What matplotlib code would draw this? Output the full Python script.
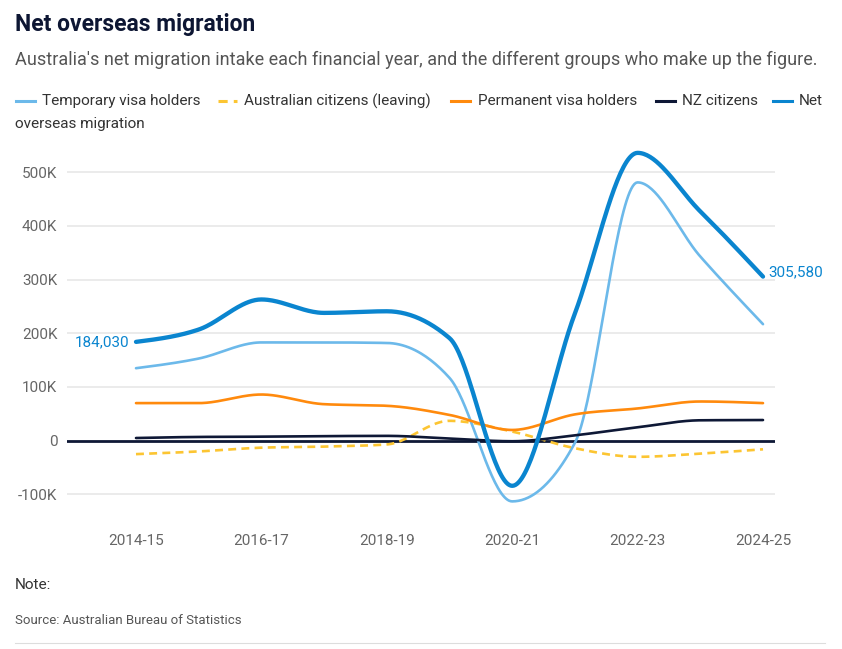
import numpy as np
import matplotlib
matplotlib.use("Agg")
import matplotlib.pyplot as plt
from matplotlib.lines import Line2D
from matplotlib.ticker import FuncFormatter

plt.rcParams['font.family'] = ['Roboto', 'DejaVu Sans']

# financial years
years = ["2014-15", "2015-16", "2016-17", "2017-18", "2018-19", "2019-20",
         "2020-21", "2021-22", "2022-23", "2023-24", "2024-25"]

# values (persons)
temporary = [135000, 153000, 183000, 183000, 182000, 117000,
             -113000, -4000, 481000, 343000, 217000]
citizens = [-25000, -20000, -13000, -11000, -7000, 37000,
            17000, -14000, -30000, -24000, -16000]
permanent = [70000, 70000, 86000, 68000, 65000, 48000,
             20000, 49000, 60000, 73000, 70000]
nz = [5000, 7000, 7500, 8500, 9000, 4000,
      -1000, 10000, 25000, 38000, 38500]
nom = [184030, 207000, 263000, 238000, 241000, 191000,
       -84000, 237000, 536000, 427000, 305580]

C_TEMP = "#6cb9ea"
C_CIT = "#fcc532"
C_PERM = "#ff8a0d"
C_NZ = "#0e1836"
C_NOM = "#0a85cf"


def monotone(y, n=40):
    # monotone cubic curve through the points (like d3 curveMonotoneX)
    y = np.asarray(y, float)
    x = np.arange(len(y), dtype=float)
    s = np.diff(y)
    t = np.zeros(len(y))
    for i in range(1, len(y) - 1):
        s0, s1 = s[i - 1], s[i]
        p = (s0 + s1) / 2
        t[i] = (np.sign(s0) + np.sign(s1)) * min(abs(s0), abs(s1), 0.5 * abs(p))
    t[0] = (3 * s[0] - t[1]) / 2
    t[-1] = (3 * s[-1] - t[-2]) / 2
    xs, ys = [], []
    for i in range(len(y) - 1):
        u = np.linspace(0, 1, n, endpoint=False)
        h00 = 2 * u**3 - 3 * u**2 + 1
        h10 = u**3 - 2 * u**2 + u
        h01 = -2 * u**3 + 3 * u**2
        h11 = u**3 - u**2
        xs.append(x[i] + u)
        ys.append(h00 * y[i] + h10 * t[i] + h01 * y[i + 1] + h11 * t[i + 1])
    xs.append([x[-1]])
    ys.append([y[-1]])
    return np.concatenate(xs), np.concatenate(ys)


fig = plt.figure(figsize=(8.42, 6.49), dpi=100)
W, H = 842, 649

x0, x1 = 136, 763
px = (x1 - x0) / 10
left, right = 67, 775
ylo, yhi = -120000, 560000
zero_px, k100 = 440.7, 53.7
top_px = zero_px - yhi / 100000 * k100
bot_px = zero_px - ylo / 100000 * k100

ax = fig.add_axes([left / W, 1 - bot_px / H, (right - left) / W, (bot_px - top_px) / H])
ax.set_xlim(-(x0 - left) / px, 10 + (right - x1) / px)
ax.set_ylim(ylo, yhi)

for v in [-100000, 100000, 200000, 300000, 400000, 500000]:
    ax.axhline(v, color="#e6e6e6", lw=1.1, zorder=0)

xi = np.arange(len(years))
xs, ys = monotone(temporary)
ax.plot(xs, ys, color=C_TEMP, lw=1.9, solid_capstyle="round", zorder=3)
xs, ys = monotone(citizens)
ax.plot(xs, ys, color=C_CIT, lw=1.9, dashes=(3, 2), zorder=3)
xs, ys = monotone(permanent)
ax.plot(xs, ys, color=C_PERM, lw=1.9, solid_capstyle="round", zorder=3)
ax.axhline(0, color=C_NZ, lw=2.0, zorder=2)
xs, ys = monotone(nz)
ax.plot(xs, ys, color=C_NZ, lw=1.9, solid_capstyle="round", zorder=3)
xs, ys = monotone(nom)
ax.plot(xs, ys, color=C_NOM, lw=3.1, solid_capstyle="round", zorder=4)

ax.annotate(f"{nom[0]:,}", (0, nom[0]), xytext=(-5, 0), textcoords="offset points",
            ha="right", va="center", color=C_NOM, fontsize=11)
ax.annotate(f"{nom[-1]:,}", (10, nom[-1]), xytext=(4, 3), textcoords="offset points",
            ha="left", va="center", color=C_NOM, fontsize=11)

ax.set_xticks(xi[::2])
ax.set_xticklabels(years[::2])
ax.set_yticks([-100000, 0, 100000, 200000, 300000, 400000, 500000])
ax.yaxis.set_major_formatter(FuncFormatter(lambda v, p: "0" if v == 0 else f"{int(v / 1000)}K"))
ax.tick_params(length=0, labelsize=11, colors="#666666")
ax.tick_params(axis="x", pad=21)
ax.tick_params(axis="y", pad=7)
for sp in ax.spines.values():
    sp.set_visible(False)

# header
fig.text(15 / W, 1 - 24 / H, "Net overseas migration", fontsize=16.5, fontweight="bold",
         color="#0d1633", va="center")
fig.text(15 / W, 1 - 60 / H,
         "Australia's net migration intake each financial year, and the different groups who make up the figure.",
         fontsize=13, color="#555555", va="center")

# legend
legend = [("Temporary visa holders", C_TEMP, 16, 42, "-"),
          ("Australian citizens (leaving)", C_CIT, 218, 244, "--"),
          ("Permanent visa holders", C_PERM, 451, 478, "-"),
          ("NZ citizens", C_NZ, 656, 682, "-"),
          ("Net", C_NOM, 773, 799, "-")]
ly = 1 - 101 / H
for label, c, sx, tx, ls in legend:
    ln = Line2D([sx / W, (sx + 19) / W], [ly, ly], transform=fig.transFigure, color=c,
                lw=2.2, linestyle=ls, dashes=(3, 2) if ls == "--" else (None, None))
    fig.add_artist(ln)
    fig.text(tx / W, ly, label, fontsize=11, color="#333333", va="center")
fig.text(15 / W, 1 - 124 / H, "overseas migration", fontsize=11, color="#333333", va="center")

# footer
fig.text(15 / W, 1 - 585 / H, "Note:", fontsize=11, color="#333333", va="center")
fig.text(15 / W, 1 - 620 / H, "Source: Australian Bureau of Statistics", fontsize=9.5,
         color="#555555", va="center")
fig.add_artist(Line2D([15 / W, 825 / W], [1 - 643 / H, 1 - 643 / H], transform=fig.transFigure,
                      color="#dddddd", lw=0.8))

fig.savefig("out.png", dpi=100)
